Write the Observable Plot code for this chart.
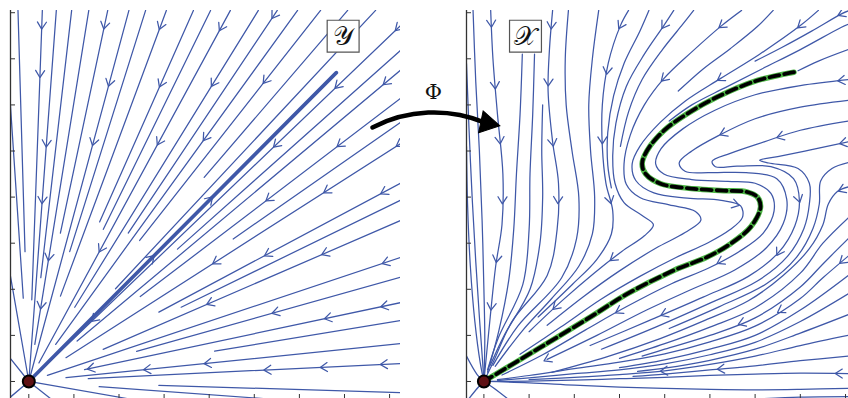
<!DOCTYPE html>
<html>
<head>
<meta charset="utf-8">
<script src="https://cdn.jsdelivr.net/npm/d3@7"></script>
<script src="https://cdn.jsdelivr.net/npm/@observablehq/plot@0.6"></script>
<style>
html, body { margin: 0; padding: 0; background: #ffffff; }
#wrap { position: relative; width: 848px; height: 398px; overflow: hidden; background: #ffffff; }
#wrap > svg { position: absolute; top: 0; }
</style>
</head>
<body>
<div id="wrap"></div>
<script>
// ---------- tick positions (no labels in the original) ----------
const xTicks = [0, 1, 2, 3, 4, 5, 6, 7, 8];
const yTicks = [0, 1, 2, 3, 4, 5, 6, 7, 8];

// ---------- left panel (Y): straight streamlines into the origin ----------
// [outer x, outer y, fraction of the way out where the line stops]
const leftRays = [
  [-0.24, 8.05, 0.35], [0.30, 8.05, 0.22], [0.61, 8.05, 0.0], [0.95, 8.05, 0.28],
  [1.33, 8.05, 0.10], [1.75, 8.05, 0.40], [2.22, 8.05, 0.0], [2.59, 8.05, 0.35],
  [3.05, 8.05, 0.23], [3.65, 8.05, 0.43], [4.03, 8.05, 0.41], [4.47, 8.05, 0.05],
  [5.09, 8.05, 0.20], [5.51, 8.05, 0.40], [5.96, 8.05, 0.10], [6.47, 8.05, 0.38],
  [7.07, 8.05, 0.55], [7.69, 8.05, 0.25],
  [8.24, 7.72, 0.0], [8.24, 7.18, 0.40], [8.24, 6.75, 0.13], [8.24, 6.14, 0.30],
  [8.24, 5.62, 0.55], [8.24, 5.16, 0.10], [8.24, 4.30, 0.35], [8.24, 3.93, 0.41],
  [8.24, 3.49, 0.20], [8.24, 2.69, 0.05], [8.24, 2.26, 0.29], [8.24, 1.71, 0.15],
  [8.24, 1.32, 0.50], [8.24, 0.82, 0.10], [8.24, 0.39, 0.16], [8.24, -0.24, 0.35],
  [-0.41, 6.03, 0.30], [-0.41, 2.30, 0.0], [-0.41, 0.50, 0.0], [-0.41, -0.34, 0.0],
  [0.48, -0.37, 0.0], [2.18, -0.37, 0.0], [5.20, -0.37, 0.30]
];
const leftTrajectory = [[0, 0], [6.82, 6.70]];
const leftArrowPts = [
  [0.30, 7.72], [0.24, 6.67], [0.41, 5.16], [0.32, 3.93], [0.41, 2.70], [0.26, 1.65],
  [1.68, 7.72], [1.74, 6.49], [1.44, 5.19],
  [2.88, 7.72], [2.92, 6.46], [2.90, 5.19], [1.59, 2.88],
  [4.18, 7.72], [4.10, 6.46], [3.99, 5.23], [4.10, 2.66],
  [5.43, 7.94], [5.29, 6.49], [5.29, 4.00], [5.29, 2.77], [3.99, 1.76],
  [8.13, 7.72], [7.88, 6.53], [8.20, 5.16], [7.88, 4.09], [7.88, 2.67], [7.87, 1.69], [7.87, 0.39],
  [6.80, 6.46], [6.88, 5.16], [6.62, 4.11], [6.54, 2.84], [5.47, 1.50], [6.62, 1.43],
  [5.43, 5.19], [4.04, 3.93], [2.74, 2.66], [1.44, 1.36],
  [2.62, 0.28], [3.96, 0.42], [5.29, 0.28], [6.54, 0.31], [1.37, 0.31]
];

// ---------- right panel (X): curved streamlines, listed in flow order ----------
const rightStreamlines = [
  [[-0.385, 5.1], [-0.36, 3.8], [-0.3, 2.5], [-0.2, 1.3], [-0.08, 0.4], [0, 0]],
  [[-0.385, 6.9], [-0.33, 5.5], [-0.26, 4.0], [-0.18, 2.6], [-0.1, 1.4], [-0.03, 0.45], [0, 0]],
  [[-0.24, 8.05], [-0.18, 6.5], [-0.1, 5.0], [-0.04, 3.5], [0.0, 2.0], [0.02, 0.9], [0, 0]],
  [[0.15, 8.05], [0.2, 7.0], [0.3, 5.8], [0.42, 4.5], [0.4, 3.4], [0.26, 2.5], [0.14, 1.4], [0.04, 0.4], [0, 0]],
  [[0.85, 7.1], [0.8, 5.8], [0.72, 4.5], [0.66, 3.3], [0.55, 2.2], [0.33, 1.1], [0.08, 0.2]],
  [[1.12, 7.1], [1.08, 5.8], [1.02, 4.5], [1.0, 3.3], [0.86, 2.1], [0.32, 0.95], [0.08, 0.25]],
  [[1.3, 6.0], [1.28, 5.0], [1.3, 4.0], [1.24, 3.0], [1.02, 2.0], [0.45, 1.0], [0.14, 0.35]],
  [[1.52, 8.05], [1.45, 7.2], [1.42, 6.3], [1.52, 5.2], [1.65, 4.3], [1.62, 3.3], [1.4, 2.3], [0.62, 1.3], [0.22, 0.45], [0, 0]],
  [[1.87, 8.05], [1.8, 7.0], [1.82, 6.0], [1.95, 5.0], [2.1, 4.0], [2.05, 3.1], [1.72, 2.25], [0.75, 1.2], [0.2, 0.35]],
  [[2.54, 8.05], [2.4, 7.0], [2.32, 6.0], [2.36, 5.0], [2.45, 4.0], [2.4, 3.2], [2.1, 2.5], [1.5, 1.8], [0.85, 1.1], [0.25, 0.33]],
  [[3.2, 8.05], [3.02, 7.72], [2.75, 6.9], [2.62, 6.0], [2.62, 5.1], [2.7, 4.3], [2.85, 3.7], [2.82, 3.2], [2.5, 2.65], [1.95, 2.1], [1.2, 1.4]],
  [[3.65, 8.05], [3.45, 7.6], [3.1, 6.9], [2.87, 6.2], [2.74, 5.4], [2.74, 4.7], [2.82, 4.2]],
  [[4.2, 8.05], [3.98, 7.72], [3.55, 7.1], [3.15, 6.4], [2.92, 5.6], [2.85, 4.9], [2.9, 4.3], [3.1, 3.88], [3.5, 3.6], [3.75, 3.4], [3.55, 3.16], [3.05, 2.82], [2.45, 2.36], [1.75, 1.77], [1.0, 1.08]],
  [[4.64, 8.05], [4.4, 7.75], [3.95, 7.2], [3.5, 6.55], [3.2, 5.85], [3.02, 5.1]],
  [[5.7, 8.05], [5.26, 7.72], [4.6, 7.15], [3.98, 6.57], [3.55, 6.0], [3.24, 5.35], [3.1, 4.72], [3.15, 4.28], [3.45, 3.99], [4.1, 3.83], [4.68, 3.69], [4.8, 3.5], [4.45, 3.23], [3.8, 2.89], [3.0, 2.4], [2.2, 1.84], [1.4, 1.22]],
  [[6.4, 8.05], [6.05, 7.7], [5.45, 7.22], [4.85, 6.78], [4.3, 6.3]],
  [[7.4, 8.05], [7.0, 7.72], [6.1, 7.1], [5.23, 6.57], [4.45, 6.08], [3.9, 5.62], [3.45, 5.1], [3.28, 4.72], [3.36, 4.36], [3.76, 4.09], [4.5, 3.98], [5.25, 3.93], [5.68, 3.81], [5.72, 3.56], [5.44, 3.29], [4.96, 3.01], [4.25, 2.69], [3.45, 2.28], [2.6, 1.79], [1.7, 1.18], [0.8, 0.59]],
  [[8.06, 8.04], [7.9, 7.97], [7.25, 7.6], [6.6, 7.25], [6.0, 6.95]],
  [[8.06, 7.75], [7.9, 7.68], [7.0, 7.2], [6.15, 6.78], [5.35, 6.38], [4.6, 6.0], [4.1, 5.65]],
  [[8.06, 7.2], [7.4, 6.95], [6.95, 6.74]],
  [[8.06, 6.55], [7.0, 6.42], [6.0, 6.22], [5.1, 5.88], [4.4, 5.48], [3.92, 5.05], [3.8, 4.72], [3.98, 4.5], [4.6, 4.38], [5.4, 4.34], [6.0, 4.3], [6.35, 4.08], [6.42, 3.7], [6.18, 3.22], [5.65, 2.82], [4.95, 2.45], [4.15, 2.12], [3.15, 1.62], [2.25, 1.12], [1.3, 0.58], [0.4, 0.14]],
  [[8.06, 6.1], [7.0, 5.95], [6.0, 5.7], [5.2, 5.34], [4.6, 5.0], [4.32, 4.74], [4.45, 4.56], [5.0, 4.53], [5.8, 4.53], [6.48, 4.4], [6.7, 3.95], [6.62, 3.42], [6.25, 2.9], [5.55, 2.42], [4.6, 2.0], [3.6, 1.55], [2.5, 1.0], [1.4, 0.48]],
  [[8.06, 5.65], [7.0, 5.45], [6.2, 5.2], [5.45, 4.95], [5.05, 4.78], [5.12, 4.66], [5.6, 4.67], [6.35, 4.66], [6.85, 4.4], [6.98, 3.92], [6.88, 3.38], [6.52, 2.8], [5.85, 2.28], [4.85, 1.83], [3.65, 1.32], [2.35, 0.78]],
  [[8.06, 5.2], [7.2, 5.02], [6.5, 4.88], [6.1, 4.8], [6.3, 4.74], [6.95, 4.62], [7.2, 4.3], [7.2, 3.85], [7.08, 3.32], [6.72, 2.72], [6.05, 2.18], [5.0, 1.7], [3.8, 1.18], [2.6, 0.7]],
  [[8.06, 4.75], [7.7, 4.62], [7.45, 4.35], [7.42, 3.85], [7.28, 3.32], [6.92, 2.7], [6.25, 2.12], [5.2, 1.62], [4.1, 1.15]],
  [[8.06, 4.22], [7.82, 4.12], [7.62, 3.85], [7.5, 3.4], [7.2, 2.88], [6.62, 2.3], [5.85, 1.75], [4.9, 1.33], [3.9, 0.93], [2.7, 0.53], [1.5, 0.2]],
  [[8.06, 3.55], [7.5, 3.0], [7.0, 2.35], [6.0, 1.6], [5.0, 1.18], [4.0, 0.82], [3.0, 0.5]],
  [[8.06, 3.1], [7.5, 2.55], [7.0, 2.05], [6.0, 1.38], [5.0, 1.0], [4.0, 0.7], [3.5, 0.55]],
  [[8.06, 2.72], [7.5, 2.25], [7.0, 1.8], [6.0, 1.2], [5.0, 0.86], [4.0, 0.6], [3.0, 0.42], [2.0, 0.28], [1.0, 0.13], [0.3, 0.04]],
  [[8.06, 2.3], [7.0, 1.55], [6.0, 1.0], [5.0, 0.7], [4.0, 0.47], [3.0, 0.3]],
  [[8.06, 1.9], [7.0, 1.3], [6.0, 0.85], [5.0, 0.58], [4.0, 0.38], [3.0, 0.25], [2.0, 0.17], [1.0, 0.08], [0.3, 0.02]],
  [[8.06, 1.45], [7.0, 1.05], [6.0, 0.7], [5.0, 0.46], [4.0, 0.29], [3.4, 0.22]],
  [[8.06, 1.0], [7.0, 0.78], [6.0, 0.55], [5.0, 0.37], [4.0, 0.23], [3.0, 0.15], [2.0, 0.09], [1.0, 0.04]],
  [[8.06, 0.55], [7.0, 0.45], [6.0, 0.34], [5.0, 0.25], [4.0, 0.16], [3.3, 0.11]],
  [[8.06, 0.17], [7.0, 0.18], [6.0, 0.16], [5.0, 0.13], [4.0, 0.09], [3.0, 0.06], [2.0, 0.03], [1.0, 0.01], [0, 0]],
  [[8.06, -0.15], [7.0, -0.17], [6.0, -0.18], [5.0, -0.17], [4.0, -0.15], [3.0, -0.12], [2.0, -0.08], [1.0, -0.03], [0, 0]],
  [[8.06, -0.33], [7.0, -0.34], [6.2, -0.37]],
  [[0.52, -0.37], [0.2, -0.13], [0, 0]],
  [[-0.33, -0.37], [-0.12, -0.12], [0, 0]],
  [[-0.385, 0.55], [-0.15, 0.15], [0, 0]]
];
// the S-shaped trajectory (image of the straight trajectory)
const rightTrajectory = [
  [6.86, 6.71], [6.05, 6.53], [5.16, 6.17], [4.50, 5.81], [3.98, 5.44], [3.61, 5.01],
  [3.50, 4.72], [3.58, 4.50], [3.91, 4.29], [4.65, 4.18], [5.31, 4.14], [5.83, 4.11],
  [6.05, 4.00], [6.12, 3.78], [5.90, 3.35], [5.46, 2.99], [4.94, 2.70], [4.20, 2.41],
  [3.17, 1.90], [2.36, 1.40], [1.25, 0.74], [0.10, 0.06]
];
const rightArrowPts = [
  [0.15, 7.76], [0.24, 6.42], [0.37, 5.23], [0.43, 3.93], [0.26, 2.66],
  [1.51, 7.72], [1.33, 6.49], [1.59, 5.19], [1.77, 3.93],
  [3.02, 7.72], [2.65, 6.75], [2.65, 5.23], [2.77, 3.93],
  [3.98, 7.72], [5.26, 7.72], [7.0, 7.72], [7.9, 7.98],
  [3.98, 6.57], [5.23, 6.57], [7.9, 6.57],
  [5.23, 5.51], [6.58, 5.23], [7.9, 5.38], [7.92, 4.14], [6.86, 3.93],
  [5.6, 3.93], [5.23, 2.59], [2.95, 2.55],
  [7.85, 2.7], [6.56, 2.77], [6.56, 1.54], [5.68, 1.32], [3.98, 1.47],
  [7.85, 0.17], [5.24, 0.27], [3.98, 0.24],
  [1.62, 1.58], [2.95, 1.58], [1.4, 0.42], [0.29, 1.61]
];

// ---------- annotations ----------
const origin = [{x: 0, y: 0}];
const panelLabelLeft = [{x: 6.97, y: 7.49, text: "\u{1D4B4}"}];
const panelLabelRight = [{x: 0.92, y: 7.49, text: "\u{1D4B3}"}];
const phiArrow = {x1: 7.62, y1: 5.51, x2: 10.44, y2: 5.55, bend: 25};
const phiLabel = [{x: 8.97, y: 6.27, text: "\u03A6"}];

// ---------- layout ----------
const BLUE = "#3f58a8";
const H = 398, MT = 10;
const yDomain = [-0.369, 8.048];
const L = {width: 400, marginLeft: 10, xDomain: [-0.406, 8.242]};
const R = {width: 408, marginLeft: 26, left: 440, xDomain: [-0.385, 8.066]};
const ky = (H - MT) / (yDomain[1] - yDomain[0]);
const kxL = (L.width - L.marginLeft) / (L.xDomain[1] - L.xDomain[0]);
const kxR = (R.width - R.marginLeft) / (R.xDomain[1] - R.xDomain[0]);

function toRows(lines) {
  return lines.flatMap((pts, i) => pts.map(([x, y]) => ({x, y, id: i})));
}
// chevron arrowheads placed on the nearest streamline, pointing along the flow
function chevrons(lines, pts, kx) {
  const out = [];
  pts.forEach(([px, py], id) => {
    const qx = px * kx, qy = -py * ky;
    let best = null;
    for (const Lp of lines) for (let i = 0; i < Lp.length - 1; i++) {
      const ax = Lp[i][0] * kx, ay = -Lp[i][1] * ky, bx = Lp[i + 1][0] * kx, by = -Lp[i + 1][1] * ky;
      const dx = bx - ax, dy = by - ay, len2 = dx * dx + dy * dy;
      if (!len2) continue;
      let t = ((qx - ax) * dx + (qy - ay) * dy) / len2;
      t = Math.max(0, Math.min(1, t));
      const cx = ax + t * dx, cy = ay + t * dy, d = Math.hypot(qx - cx, qy - cy);
      if (!best || d < best.d) { const l = Math.sqrt(len2); best = {d, cx, cy, ux: dx / l, uy: dy / l}; }
    }
    if (!best || best.d > 14) return;
    const {cx, cy, ux, uy} = best;
    const tx = cx + ux * 3.5, ty = cy + uy * 3.5, nx = -uy, ny = ux;
    const pts3 = [[tx - ux * 7 + nx * 4.5, ty - uy * 7 + ny * 4.5], [tx, ty], [tx - ux * 7 - nx * 4.5, ty - uy * 7 - ny * 4.5]];
    for (const [sx, sy] of pts3) out.push({x: sx / kx, y: -sy / ky, id});
  });
  return out;
}

function axes(xDomain) {
  return [
    Plot.ruleX([xDomain[0]], {stroke: "#333", strokeWidth: 1.3}),
    Plot.axisY(yTicks, {anchor: "left", tickSize: -5, tickFormat: () => "", stroke: "#333", label: null}),
    Plot.axisX(xTicks, {anchor: "bottom", tickSize: -4, tickFormat: () => "", stroke: "#333", label: null})
  ];
}

// Φ arrow: bent shaft (Plot.arrow without head) + filled triangular head at the tip
const headLen = 19;            // px, tip to base of the head
const headR = 8.3;             // dot radius giving that triangle
const chordAng = Math.atan2(-(phiArrow.y2 - phiArrow.y1) * ky, (phiArrow.x2 - phiArrow.x1) * kxL);
const endAng = chordAng + (phiArrow.bend / 2) * Math.PI / 180;   // tangent at the end of the arc (screen)
const ux = Math.cos(endAng), uy = Math.sin(endAng);
const shaft = [{
  x1: phiArrow.x1, y1: phiArrow.y1,
  x2: phiArrow.x2 - ux * (headLen - 4) / kxL, y2: phiArrow.y2 + uy * (headLen - 4) / ky
}];
const head = [{
  x: phiArrow.x2 - ux * (headLen * 2 / 3) / kxL, y: phiArrow.y2 + uy * (headLen * 2 / 3) / ky,
  rotate: 90 + endAng * 180 / Math.PI
}];

// ---------- right panel ----------
const trajRows = rightTrajectory.map(([x, y]) => ({x, y}));
const rightPlot = Plot.plot({
  width: R.width, height: H,
  marginLeft: R.marginLeft, marginRight: 0, marginTop: MT, marginBottom: 0,
  style: "background: transparent; overflow: visible;",
  x: {domain: R.xDomain},
  y: {domain: yDomain},
  marks: [
    Plot.line(toRows(rightStreamlines), {x: "x", y: "y", z: "id", stroke: BLUE, strokeWidth: 1.25, curve: "catmull-rom", clip: true}),
    Plot.line(chevrons(rightStreamlines, rightArrowPts, kxR), {x: "x", y: "y", z: "id", stroke: BLUE, strokeWidth: 1.25, clip: true}),
    Plot.line(trajRows, {x: "x", y: "y", stroke: "#4cb544", strokeWidth: 5.5, curve: "catmull-rom"}),
    Plot.line(trajRows, {x: "x", y: "y", stroke: "#000", strokeWidth: 3.8, strokeDasharray: "10,5", curve: "catmull-rom"}),
    ...axes(R.xDomain),
    Plot.dot(origin, {x: "x", y: "y", r: 6, fill: "#5e1013", stroke: "#000", strokeWidth: 2}),
    Plot.dot(panelLabelRight, {x: "x", y: "y", symbol: "square", r: 18, fill: "white", stroke: "#555", strokeWidth: 1.2}),
    Plot.text(panelLabelRight, {x: "x", y: "y", text: "text", fontSize: 26, fontFamily: "DejaVu Serif, serif", fill: "#111"})
  ]
});

// ---------- left panel ----------
const leftLines = leftRays.map(([x, y, f]) => [[x, y], [x * f, y * f]]);
const leftPlot = Plot.plot({
  width: L.width, height: H,
  marginLeft: L.marginLeft, marginRight: 0, marginTop: MT, marginBottom: 0,
  style: "background: transparent; overflow: visible;",
  x: {domain: L.xDomain},
  y: {domain: yDomain},
  marks: [
    Plot.line(toRows(leftLines), {x: "x", y: "y", z: "id", stroke: BLUE, strokeWidth: 1.25, clip: true}),
    Plot.line(leftTrajectory.map(([x, y]) => ({x, y})), {x: "x", y: "y", stroke: BLUE, strokeWidth: 3.6}),
    Plot.line(chevrons([...leftLines, leftTrajectory], leftArrowPts, kxL), {x: "x", y: "y", z: "id", stroke: BLUE, strokeWidth: 1.25, clip: true}),
    ...axes(L.xDomain),
    Plot.dot(origin, {x: "x", y: "y", r: 6, fill: "#5e1013", stroke: "#000", strokeWidth: 2}),
    Plot.dot(panelLabelLeft, {x: "x", y: "y", symbol: "square", r: 18, fill: "white", stroke: "#555", strokeWidth: 1.2}),
    Plot.text(panelLabelLeft, {x: "x", y: "y", text: "text", fontSize: 26, fontFamily: "DejaVu Serif, serif", fill: "#111"}),
    Plot.arrow(shaft, {x1: "x1", y1: "y1", x2: "x2", y2: "y2", bend: phiArrow.bend, stroke: "#000", strokeWidth: 4.5, headLength: 0}),
    Plot.dot(head, {x: "x", y: "y", rotate: "rotate", symbol: "triangle", r: headR, fill: "#000", stroke: "#000", strokeWidth: 1}),
    Plot.text(phiLabel, {x: "x", y: "y", text: "text", fontSize: 21, fontFamily: "DejaVu Serif, serif", fill: "#111"})
  ]
});

const wrap = document.getElementById("wrap");
rightPlot.style.left = R.left + "px";
leftPlot.style.left = "0px";
wrap.appendChild(rightPlot);
wrap.appendChild(leftPlot);
</script>
</body>
</html>
